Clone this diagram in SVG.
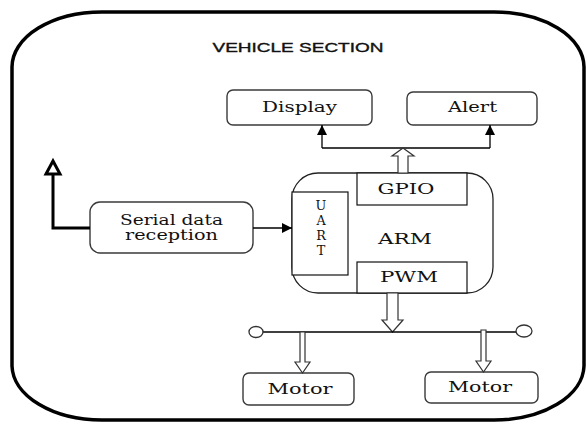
<svg xmlns="http://www.w3.org/2000/svg" width="587" height="424" viewBox="0 0 587 424">
<style>
.box{fill:#fff;stroke:#3a3a3a;stroke-width:1.4}
.rect{fill:#fff;stroke:#111;stroke-width:1.2}
.t{font-family:"DejaVu Serif","Liberation Serif",serif;font-size:14px;fill:#111;text-anchor:middle}
.u{font-family:"DejaVu Serif","Liberation Serif",serif;font-size:12.8px;fill:#111;text-anchor:middle}
.ln{fill:none;stroke:#000;stroke-width:1.3}
.hol{fill:#fff;stroke:#333;stroke-width:1.2}
</style>
<defs>
<marker id="ah" viewBox="0 0 10 10" refX="10" refY="5" markerWidth="10" markerHeight="10" markerUnits="userSpaceOnUse" orient="auto">
<path d="M0,0 L10,5 L0,10 Z" fill="#000"/>
</marker>
</defs>
<g id="frame">
<path d="M102,12 H494 A90,55 0 0 1 584,67 V366 A90,55 0 0 1 494,420 H102 A90,55 0 0 1 12,366 V67 A90,55 0 0 1 102,12 Z" fill="#fff" stroke="#000" stroke-width="3.5"/>
<text x="298" y="52" font-family="Liberation Sans,Arial,sans-serif" font-size="12.5" fill="#111" stroke="#111" stroke-width="0.35" text-anchor="middle" textLength="171" lengthAdjust="spacingAndGlyphs">VEHICLE SECTION</text>
</g>
<g id="display">
<rect class="box" x="227" y="90" width="145" height="35" rx="6"/>
<text class="t" x="299.5" y="112" textLength="75" lengthAdjust="spacingAndGlyphs">Display</text>
</g>
<g id="alert">
<rect class="box" x="407" y="92" width="130" height="33" rx="6"/>
<text class="t" x="472.5" y="112" textLength="49" lengthAdjust="spacingAndGlyphs">Alert</text>
</g>
<g id="serial">
<rect class="box" x="90" y="202" width="163" height="51" rx="10"/>
<text class="t" x="171.5" y="225" textLength="103" lengthAdjust="spacingAndGlyphs">Serial data</text>
<text class="t" x="171.5" y="240" textLength="93" lengthAdjust="spacingAndGlyphs">reception</text>
</g>
<g id="arm">
<rect x="292" y="173" width="201" height="120" rx="26" fill="#fff" stroke="#222" stroke-width="1.3"/>
<text class="t" x="405" y="244" textLength="54" lengthAdjust="spacingAndGlyphs">ARM</text>
</g>
<g id="uart">
<rect class="rect" x="292" y="192" width="56" height="83"/>
<text class="u" x="321" y="210">U</text>
<text class="u" x="321" y="225">A</text>
<text class="u" x="321" y="240">R</text>
<text class="u" x="321" y="255">T</text>
</g>
<g id="gpio">
<rect class="rect" x="357" y="173" width="110" height="32"/>
<text class="t" x="406" y="194" textLength="57" lengthAdjust="spacingAndGlyphs">GPIO</text>
</g>
<g id="pwm">
<rect class="rect" x="357" y="262" width="110" height="31"/>
<text class="t" x="409" y="282" textLength="58" lengthAdjust="spacingAndGlyphs">PWM</text>
</g>
<g id="motor1">
<rect class="box" x="243" y="373" width="111" height="32" rx="6"/>
<text class="t" x="300" y="394" textLength="65" lengthAdjust="spacingAndGlyphs">Motor</text>
</g>
<g id="motor2">
<rect class="box" x="425" y="372" width="113" height="31" rx="6"/>
<text class="t" x="480" y="392" textLength="64" lengthAdjust="spacingAndGlyphs">Motor</text>
</g>
<g id="connectors">
<line class="ln" x1="253" y1="228" x2="292" y2="228" marker-end="url(#ah)"/>
<polyline points="90,228 53,228 53,172" fill="none" stroke="#000" stroke-width="3"/>
<polygon points="46,174 53,161 60,174" fill="#fff" stroke="#000" stroke-width="3" stroke-linejoin="miter"/>
<polyline class="ln" points="322,148 490,148"/>
<line class="ln" x1="322" y1="148" x2="322" y2="125" marker-end="url(#ah)"/>
<line class="ln" x1="490" y1="148" x2="490" y2="125" marker-end="url(#ah)"/>
<polygon class="hol" points="398,173 398,156 392,156 403,148 414,156 408,156 408,173"/>
<polygon class="hol" points="387,293 387,320 382,320 392.5,332 403,320 398,320 398,293"/>
<line class="ln" x1="262" y1="332" x2="517" y2="332"/>
<ellipse cx="256" cy="332" rx="7" ry="5.5" fill="#fff" stroke="#333" stroke-width="1.3"/>
<ellipse cx="524" cy="331" rx="8" ry="6" fill="#fff" stroke="#333" stroke-width="1.3"/>
<polygon class="hol" points="300,332 300,362 295,362 302.5,373 310,362 305,362 305,332"/>
<polygon class="hol" points="481,330 481,361 476,361 483.5,372 491,361 486,361 486,330"/>
</g>
</svg>
